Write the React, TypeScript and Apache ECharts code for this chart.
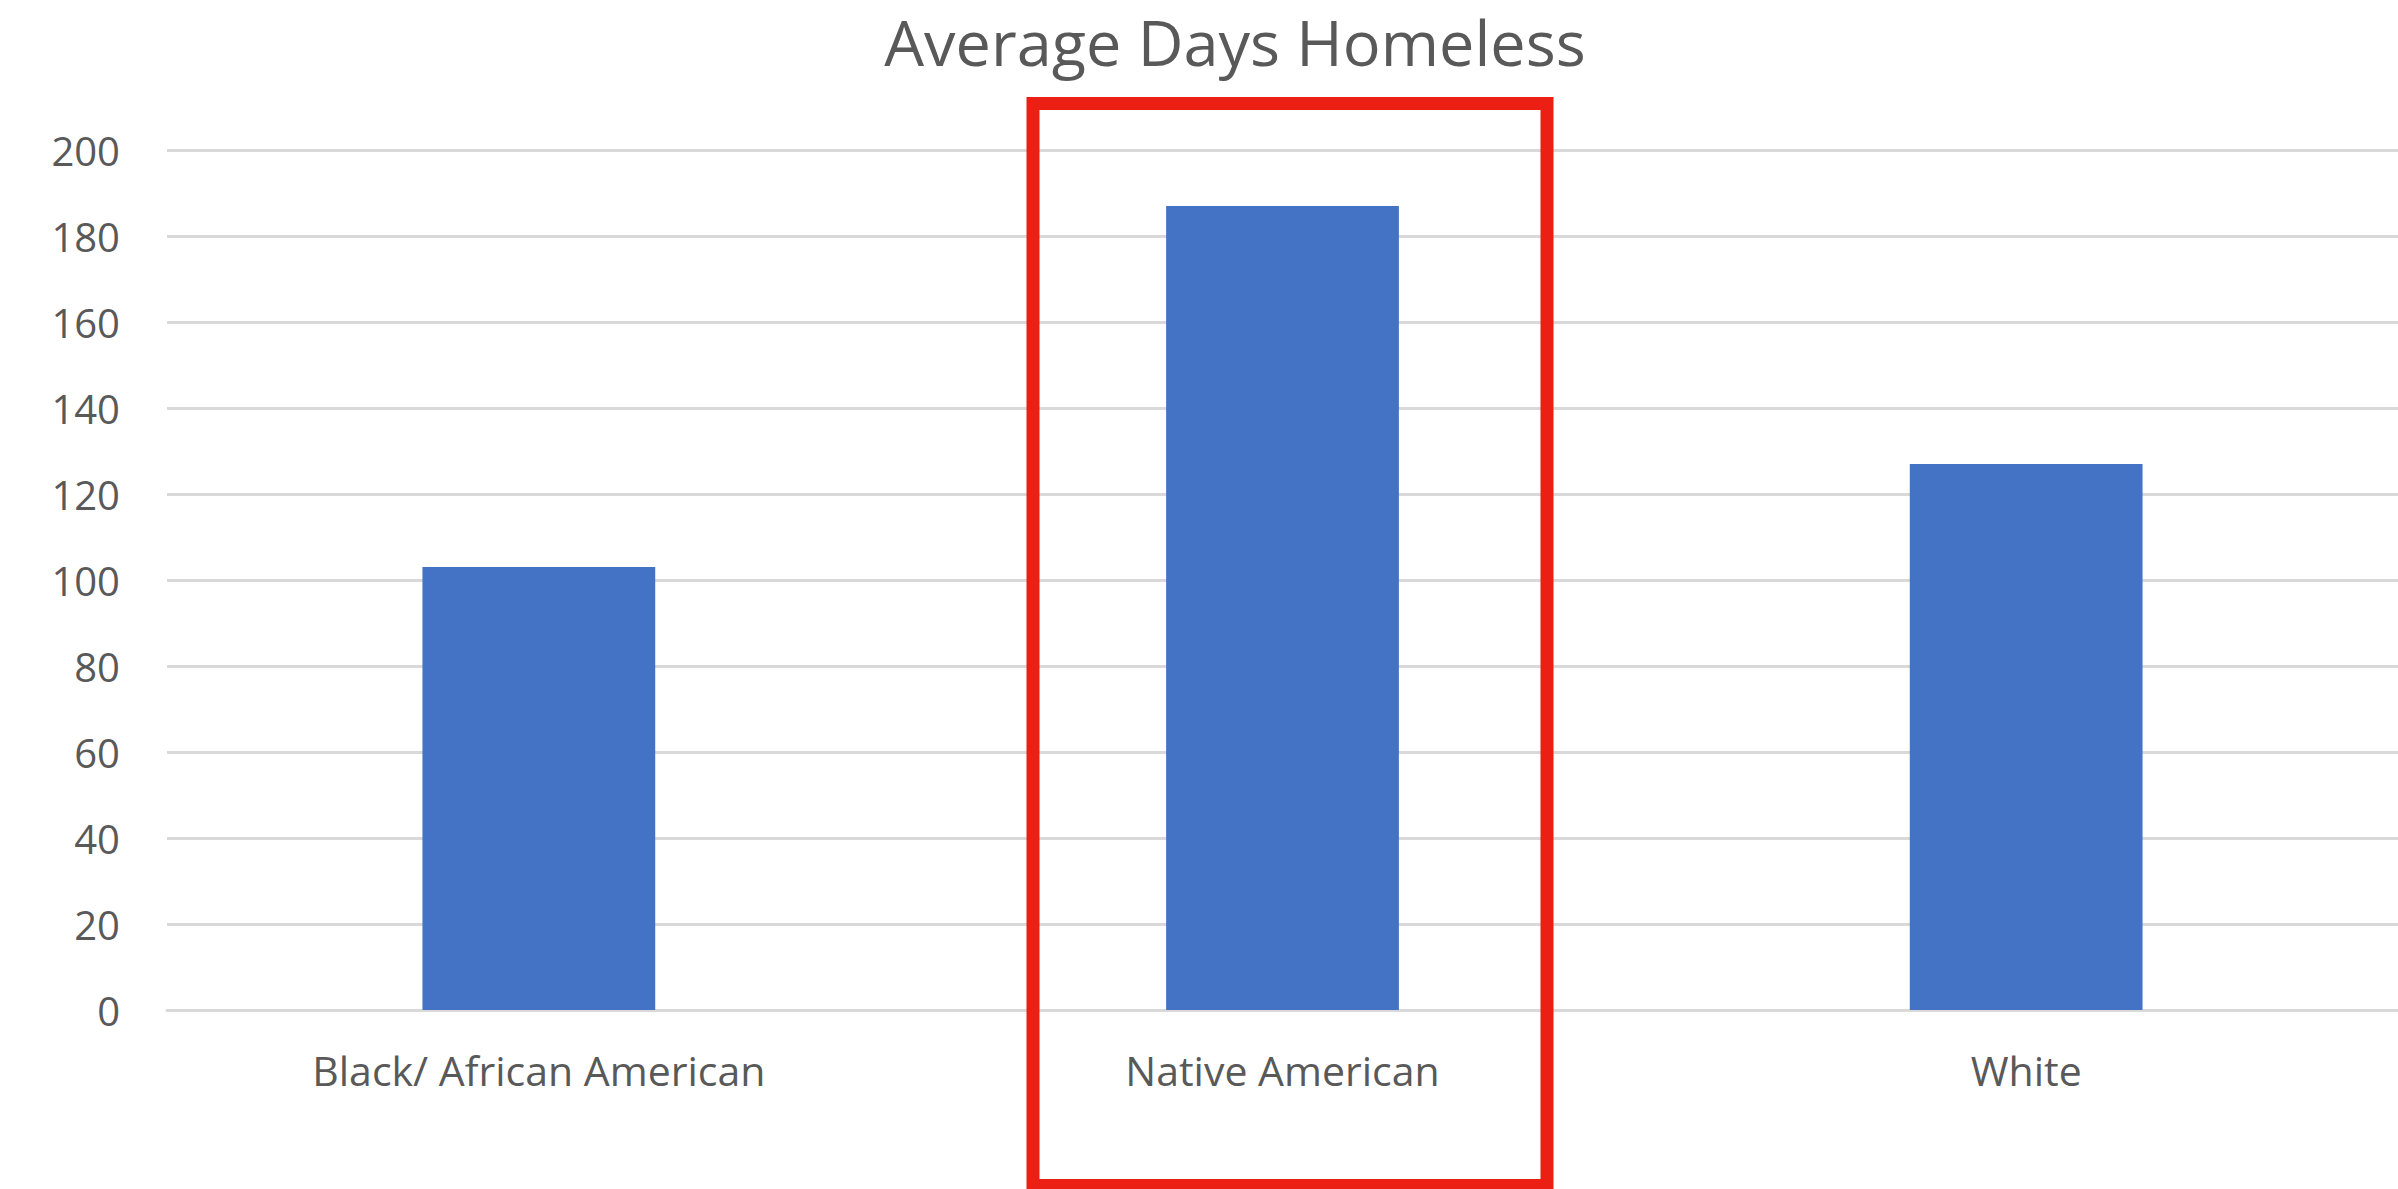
import React, { useEffect, useRef } from "react";
import * as echarts from "echarts";

const categories = ["Black/ African American", "Native American", "White"];
const averageDays = [103, 187, 127];
const yTicks = { min: 0, max: 200, interval: 20 };
const chartTitle = "Average Days Homeless";

export default function App() {
  const ref = useRef<HTMLDivElement>(null);
  useEffect(() => {
    if (!ref.current) return;
    const chart = echarts.init(ref.current, undefined, { renderer: "svg" });
    const font = "'Open Sans', sans-serif";
    chart.setOption({
      animation: false,
      backgroundColor: "#ffffff",
      title: {
        text: chartTitle,
        left: 1235,
        top: 10,
        padding: 0,
        textAlign: "center",
        textStyle: { fontFamily: font, fontSize: 63, fontWeight: "normal", color: "#595959" },
      },
      grid: { left: 167, right: 0, top: 150, bottom: 179, containLabel: false },
      xAxis: {
        type: "category",
        data: categories,
        axisLine: { show: true, lineStyle: { color: "#d9d9d9", width: 3 } },
        axisTick: { show: false },
        axisLabel: { fontFamily: font, fontSize: 41, color: "#595959", margin: 39 },
      },
      yAxis: {
        type: "value",
        min: yTicks.min,
        max: yTicks.max,
        interval: yTicks.interval,
        axisLine: { show: false },
        axisTick: { show: false },
        splitLine: { lineStyle: { color: "#d9d9d9", width: 3 } },
        axisLabel: { fontFamily: font, fontSize: 40, color: "#595959", margin: 47 },
      },
      series: [
        {
          type: "bar",
          data: averageDays,
          barWidth: "31.3%",
          itemStyle: { color: "#4472c4" },
        },
      ],
      graphic: [
        {
          type: "rect",
          shape: { x: 1033, y: 103.5, width: 514, height: 1082 },
          style: { fill: "none", stroke: "#ec1f15", lineWidth: 13 },
          z: 100,
        },
      ],
    });
    return () => chart.dispose();
  }, []);
  return (
    <div
      ref={ref}
      style={{ position: "fixed", left: 0, top: 0, width: 2398, height: 1189, background: "#fff" }}
    />
  );
}
